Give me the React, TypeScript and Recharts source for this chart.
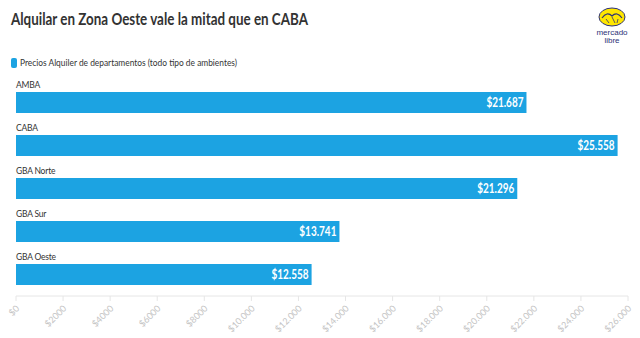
import { BarChart, Bar, XAxis, YAxis, LabelList } from "recharts";

const regions = ["AMBA", "CABA", "GBA Norte", "GBA Sur", "GBA Oeste"];
const prices = [21687, 25558, 21296, 13741, 12558];
const tickValues = [0, 2000, 4000, 6000, 8000, 10000, 12000, 14000, 16000, 18000, 20000, 22000, 24000, 26000];
const tickLabels = ["$0", "$2000", "$4000", "$6000", "$8000", "$10.000", "$12.000", "$14.000", "$16.000", "$18.000", "$20.000", "$22.000", "$24.000", "$26.000"];
const seriesName = "Precios Alquiler de departamentos (todo tipo de ambientes)";
const title = "Alquilar en Zona Oeste vale la mitad que en CABA";

const data = regions.map((region, i) => ({ region, price: prices[i] }));

const BLUE = "#1ca3e2";
const FONT = "Lato, 'Open Sans', sans-serif";

const fmt = (v: number) => "$" + v.toLocaleString("de-DE");

const RegionLabel = (props: any) => {
    const { x, y, value } = props;
    return (
        <text x={x} y={y - 4} fontSize={8.5} fill="#333" fontFamily={FONT} letterSpacing={-0.2}>
            {value}
        </text>
    );
};

const PriceLabel = (props: any) => {
    const { x, y, width, height, value } = props;
    const s = fmt(Number(value));
    return (
        <text
            x={x + width - 3}
            y={y + height / 2 + 4.5}
            fontSize={13}
            fontWeight="bold"
            fill="#fff"
            fontFamily={FONT}
            textAnchor="end"
            textLength={s.length * 5.3}
            lengthAdjust="spacingAndGlyphs"
        >
            {s}
        </text>
    );
};

const PriceTick = (props: any) => {
    const { x, y, payload } = props;
    const idx = tickValues.indexOf(payload.value);
    return (
        <text
            x={x + 4}
            y={y + 6}
            fontSize={9}
            fill="#c4c4c4"
            fontFamily={FONT}
            textAnchor="end"
            transform={`rotate(-45, ${x + 4}, ${y + 6})`}
        >
            {tickLabels[idx]}
        </text>
    );
};

const Header = () => (
    <svg width={640} height={80} style={{ position: "absolute", left: 0, top: 0 }}>
        <text x={11} y={25} fontSize={17} fontWeight="bold" fill="#333" fontFamily={FONT} textLength={297} lengthAdjust="spacingAndGlyphs">
            {title}
        </text>
        <rect x={11} y={58} width={6} height={10} rx={2} fill={BLUE} />
        <text x={20} y={66} fontSize={9.5} fill="#333" fontFamily={FONT} textLength={217} lengthAdjust="spacingAndGlyphs">
            {seriesName}
        </text>
        <g transform="translate(593,4)">
            <ellipse cx={19} cy={13} rx={13} ry={9} fill="#ffe600" stroke="#2d3277" strokeWidth={1} />
            <path d="M9 14 Q14 7 19 12 Q24 7 29 14" fill="none" stroke="#2d3277" strokeWidth={1.2} />
            <path d="M13 15 L16 19 M19 13 L22 19 M25 15 L24 19" stroke="#2d3277" strokeWidth={0.8} />
            <text x={19} y={31} fontSize={8} fill="#2d3277" textAnchor="middle" fontFamily="Arial, sans-serif">mercado</text>
            <text x={19} y={39} fontSize={8} fill="#2d3277" textAnchor="middle" fontFamily="Arial, sans-serif">libre</text>
        </g>
    </svg>
);

export default function App() {
    return (
        <div style={{ position: "absolute", left: 0, top: 0, width: 640, height: 338, background: "#fff" }}>
            <Header />
            <div style={{ position: "absolute", left: 0, top: 0 }}>
                <BarChart
                    width={640}
                    height={338}
                    data={data}
                    layout="vertical"
                    margin={{ top: 81, right: 12, bottom: 0, left: 16 }}
                    barCategoryGap={11}
                >
                    <XAxis
                        type="number"
                        domain={[0, 26000]}
                        ticks={tickValues}
                        interval={0}
                        stroke="#e6e6e6"
                        tickLine={{ stroke: "#e6e6e6" }}
                        tickSize={5}
                        tick={<PriceTick />}
                        height={42}
                    />
                    <YAxis type="category" dataKey="region" hide />
                    <Bar dataKey="price" fill={BLUE} barSize={21} isAnimationActive={false}>
                        <LabelList dataKey="region" content={<RegionLabel />} />
                        <LabelList dataKey="price" content={<PriceLabel />} />
                    </Bar>
                </BarChart>
            </div>
        </div>
    );
}
